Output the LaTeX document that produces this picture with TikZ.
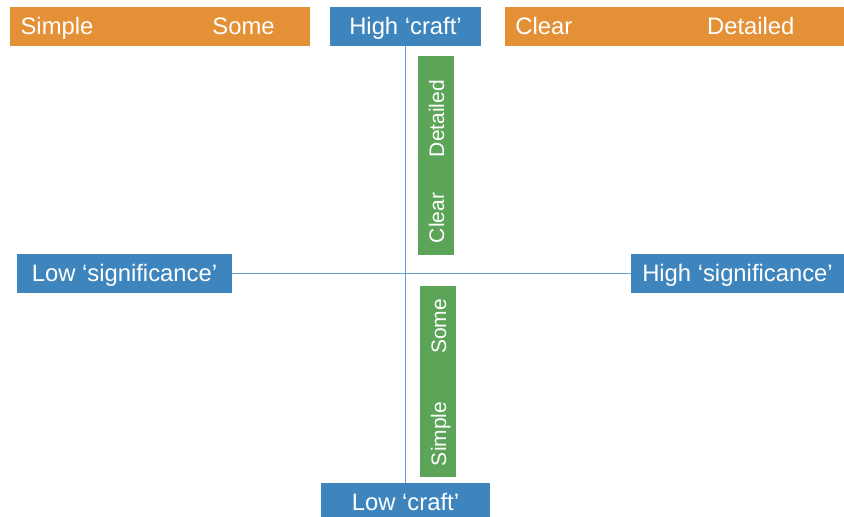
\documentclass[tikz,border=0pt]{standalone}
\usepackage{fontspec}
\setmainfont{Liberation Sans}
\usetikzlibrary{positioning}
\definecolor{boxorange}{RGB}{227,144,55}
\definecolor{boxblue}{RGB}{62,133,189}
\definecolor{boxgreen}{RGB}{92,165,88}
\definecolor{axisblue}{RGB}{105,158,212}

\begin{document}
\begin{tikzpicture}[x=1pt, y=-1pt,
	bstyle/.style={rectangle, fill=boxblue, text=white, inner sep=0pt,
	minimum height=39pt, text height=16.5pt, text depth=0pt,
	font=\fontsize{23.8}{28}\selectfont},
	ostyle/.style={rectangle, fill=boxorange, inner sep=0pt, minimum height=39pt},
	gstyle/.style={rectangle, fill=boxgreen, inner sep=0pt, minimum width=36pt},
	otext/.style={text=white, inner sep=0pt, text height=16.5pt, text depth=0pt,
	font=\fontsize{23.8}{28}\selectfont},
	gtext/.style={text=white, inner sep=0pt, rotate=90, text height=16pt, 
	text depth=0pt, font=\fontsize{21}{25}\selectfont}
	]
	\useasboundingbox (0,0) rectangle (844,517);
	\node[bstyle, minimum width=151pt] (1) at (405.5,26.5) {High ‘craft’};
	\node[ostyle, minimum width=300pt] (2) [left=20pt of 1] {};
	\node[ostyle, minimum width=339pt] (3) [right=24pt of 1] {};
	\node[bstyle, minimum width=215pt] (4) at (124.5,273.5) {Low ‘significance’};
	\node[bstyle, minimum width=213pt] (5) at (737.5,273.5) {High ‘significance’};
	\node[bstyle, minimum width=169pt] (6) at (405.5,502.5) {Low ‘craft’};
	\node[gstyle, minimum height=199pt] (7) at (436,155.5) {};
	\node[gstyle, minimum height=191pt] (8) at (438,381.5) {};
	
	\node[otext, anchor=west] (9) at ([xshift=11pt]2.west) {Simple};
	\node[otext, anchor=east] (10) at ([xshift=-35pt]2.east) {Some};
	\node[otext, anchor=west] (11) at ([xshift=10pt]3.west) {Clear};
	\node[otext, anchor=east] (12) at ([xshift=-50pt]3.east) {Detailed};
	\node[gtext, anchor=west] (13) at ([yshift=12pt]7.south) {Clear};
	\node[gtext, anchor=east] (14) at ([yshift=-24pt]7.north) {Detailed};
	\node[gtext, anchor=west] (15) at ([yshift=11pt]8.south) {Simple};
	\node[gtext, anchor=east] (16) at ([yshift=-13pt]8.north) {Some};
	
	\draw[axisblue, line width=1.5pt] (1.south) to (6.north);
	\draw[axisblue, line width=1.5pt] (4.east) to (5.west);
\end{tikzpicture}
\end{document}
